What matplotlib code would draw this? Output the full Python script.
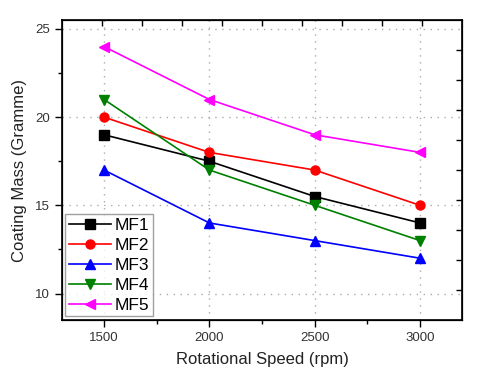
import matplotlib
matplotlib.use("Agg")
import matplotlib.pyplot as plt
from matplotlib.ticker import MultipleLocator

plt.rcParams["font.family"] = ["Liberation Sans", "DejaVu Sans"]

# ── data ──────────────────────────────────────────────────────────────────────
speed = [1500, 2000, 2500, 3000]
mf1 = [19, 17.5, 15.5, 14]
mf2 = [20, 18, 17, 15]
mf3 = [17, 14, 13, 12]
mf4 = [21, 17, 15, 13]
mf5 = [24, 21, 19, 18]

series = [
    ("MF1", mf1, "#000000", "s"),
    ("MF2", mf2, "#FF0000", "o"),
    ("MF3", mf3, "#0000FF", "^"),
    ("MF4", mf4, "#008000", "v"),
    ("MF5", mf5, "#FF00FF", "<"),
]

fig = plt.figure(figsize=(4.8, 3.8), dpi=100)
ax = fig.add_axes([0.129, 0.158, 0.834, 0.789])

for name, vals, col, mk in series:
    ax.plot(speed, vals, color=col, marker=mk, markersize=6.5, linewidth=1.2,
            label=name)

ax.set_xlim(1300, 3200)
ax.set_ylim(8.5, 25.5)
ax.xaxis.set_major_locator(MultipleLocator(500))
ax.xaxis.set_minor_locator(MultipleLocator(250))
ax.yaxis.set_major_locator(MultipleLocator(5))
ax.yaxis.set_minor_locator(MultipleLocator(2.5))
ax.tick_params(which="both", direction="out", top=False, right=False,
               labelsize=9.5, labelcolor="#333333", width=1.0)
ax.tick_params(which="major", length=5)
ax.tick_params(which="minor", length=3)
ax.grid(True, which="major", linestyle=(0, (1, 4)), color="#aaaaaa", linewidth=1.0)
for sp in ax.spines.values():
    sp.set_linewidth(1.2)

ax.set_xlabel("Rotational Speed (rpm)", fontsize=12, color="#222222", labelpad=6)
ax.set_ylabel("Coating Mass (Gramme)", fontsize=12, color="#222222", labelpad=6)

# inward ticks on top and right (independent spacing as in the original)
axt = ax.twiny()
axt.set_xlim(0, 10)
axt.set_xticks(range(1, 10))
axt.tick_params(axis="x", direction="in", length=4, width=1.0, labeltop=False)
axr = ax.twinx()
axr.set_ylim(0, 10)
axr.set_yticks(range(1, 10))
axr.tick_params(axis="y", direction="in", length=4, width=1.0, labelright=False)

leg = ax.legend(loc="lower left", fontsize=12.5, frameon=True, fancybox=False,
                borderpad=0.2, labelspacing=0.28, handlelength=2.4,
                handletextpad=0.25, borderaxespad=0.2)
leg.get_frame().set_edgecolor("#888888")
leg.get_frame().set_linewidth(1.0)

fig.savefig("out.png", dpi=100)
